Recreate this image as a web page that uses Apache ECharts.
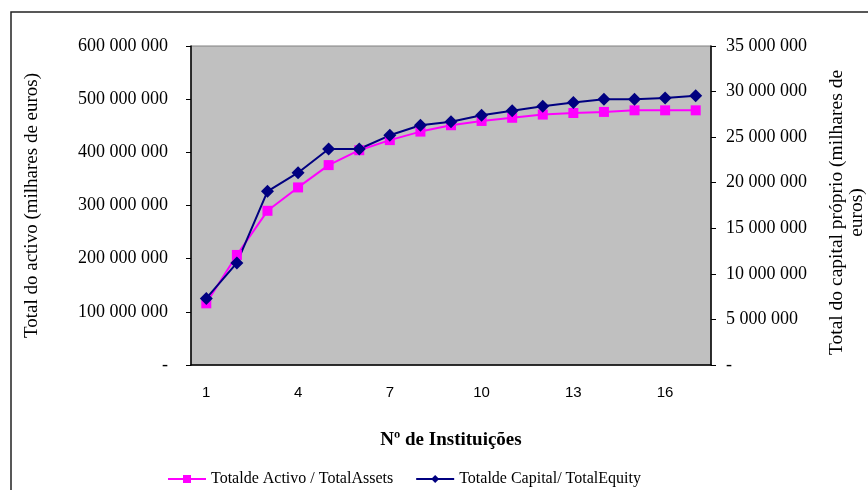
<!DOCTYPE html>
<html>
<head>
<meta charset="utf-8">
<script src="https://cdn.jsdelivr.net/npm/echarts@6/dist/echarts.min.js"></script>
<style>
  html, body { margin: 0; padding: 0; background: #fff; }
  #main { width: 868px; height: 490px; }
</style>
</head>
<body>
<div id="main"></div>
<script>
// data
const institutions = ['1','2','3','4','5','6','7','8','9','10','11','12','13','14','15','16','17'];
const totalAssets = [116e6, 207e6, 290e6, 334e6, 376e6, 404e6, 423e6, 439e6, 451e6, 459e6, 465e6, 471e6, 474e6, 476e6, 479e6, 479e6, 479e6];
const totalEquity = [7.3e6, 11.2e6, 19.05e6, 21.1e6, 23.7e6, 23.7e6, 25.2e6, 26.3e6, 26.7e6, 27.4e6, 27.9e6, 28.4e6, 28.8e6, 29.15e6, 29.15e6, 29.3e6, 29.55e6];

const serif = '"Liberation Serif", "Times New Roman", serif';
const sans = '"Liberation Sans", Arial, sans-serif';

function fmt(v) {
  if (v === 0) return '-';
  return String(v).replace(/\B(?=(\d{3})+(?!\d))/g, ' ');
}

let myChart = echarts.init(document.getElementById('main'));
myChart.setOption({
  animation: false,
  backgroundColor: '#fff',
  graphic: [{
    type: 'rect',
    shape: { x: 11, y: 12, width: 870, height: 490 },
    style: { fill: 'none', stroke: '#222', lineWidth: 1.5 },
    silent: true
  }],
  grid: {
    left: 191, right: 157, top: 46, bottom: 125,
    outerBoundsMode: 'none',
    containLabel: false,
    show: true, backgroundColor: '#c0c0c0', borderColor: '#808080', borderWidth: 1
  },
  legend: {
    top: 466,
    left: 162,
    itemWidth: 38,
    itemHeight: 10,
    itemGap: 22,
    textStyle: { fontFamily: serif, fontSize: 16, color: '#000' },
    data: ['Totalde Activo / TotalAssets', 'Totalde Capital/ TotalEquity']
  },
  xAxis: {
    type: 'category',
    data: institutions,
    name: 'Nº de Instituições',
    nameLocation: 'middle',
    nameGap: 66,
    nameTextStyle: { fontFamily: serif, fontSize: 19, fontWeight: 'bold', color: '#000' },
    axisLine: { lineStyle: { color: '#000', width: 1.5 } },
    axisTick: { interval: 2, length: 5, lineStyle: { color: '#000' } },
    axisLabel: { interval: 2, margin: 20, fontFamily: sans, fontSize: 15, color: '#000' }
  },
  yAxis: [{
    type: 'value',
    min: 0, max: 600000000, interval: 100000000,
    name: 'Total do activo (milhares de euros)',
    nameLocation: 'middle',
    nameGap: 149,
    nameTextStyle: { fontFamily: serif, fontSize: 19, color: '#000' },
    axisLine: { show: true, lineStyle: { color: '#000', width: 1.5 } },
    axisTick: { show: true, length: 5, lineStyle: { color: '#000' } },
    splitLine: { show: false },
    axisLabel: { margin: 23, fontFamily: serif, fontSize: 18, color: '#000', formatter: fmt }
  }, {
    type: 'value',
    min: 0, max: 35000000, interval: 5000000,
    position: 'right',
    name: 'Total do capital próprio (milhares de\neuros)',
    nameLocation: 'middle',
    nameGap: 116,
    nameTextStyle: { fontFamily: serif, fontSize: 19.5, color: '#000', lineHeight: 20, align: 'center', padding: [0, 14, 0, 0] },
    axisLine: { show: true, lineStyle: { color: '#000', width: 1.5 } },
    axisTick: { show: true, length: 5, lineStyle: { color: '#000' } },
    splitLine: { show: false },
    axisLabel: { margin: 15, fontFamily: serif, fontSize: 18, color: '#000', formatter: fmt }
  }],
  series: [{
    name: 'Totalde Activo / TotalAssets',
    type: 'line',
    yAxisIndex: 0,
    data: totalAssets,
    symbol: 'rect',
    symbolSize: 10,
    color: '#ff00ff',
    lineStyle: { color: '#ff00ff', width: 2 },
    itemStyle: { color: '#ff00ff' }
  }, {
    name: 'Totalde Capital/ TotalEquity',
    type: 'line',
    yAxisIndex: 1,
    data: totalEquity,
    symbol: 'diamond',
    symbolSize: 13,
    color: '#000080',
    z: 3,
    lineStyle: { color: '#000080', width: 2 },
    itemStyle: { color: '#000080' }
  }]
});
</script>
</body>
</html>
